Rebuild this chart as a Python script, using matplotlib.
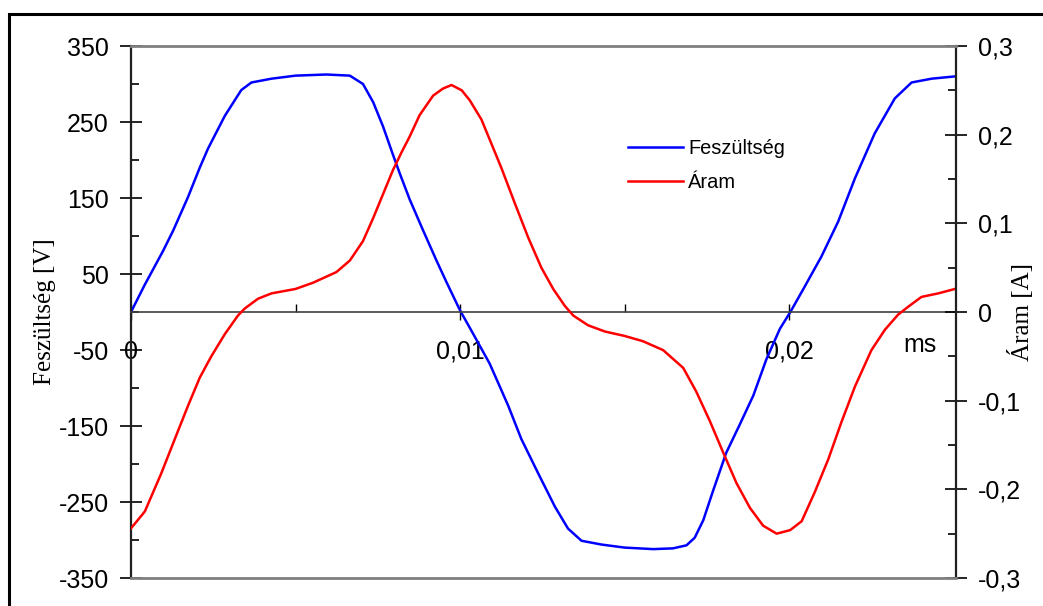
import matplotlib
matplotlib.use('Agg')
import matplotlib.pyplot as plt
from matplotlib.patches import Rectangle
from matplotlib.ticker import FixedLocator, FuncFormatter

# measured waveforms (time in s)
t_u = [0, 0.00042, 0.00097, 0.00128, 0.00173, 0.00209, 0.00234, 0.00285,
       0.00335, 0.00366, 0.00427, 0.00500, 0.00594, 0.00665, 0.00705,
       0.00736, 0.00766, 0.00796, 0.00817, 0.00847, 0.00888, 0.00928,
       0.00959, 0.01000, 0.01035, 0.01090, 0.01146, 0.01186, 0.01237,
       0.01288, 0.01328, 0.01369, 0.01430, 0.01500, 0.01587, 0.01647,
       0.01688, 0.01713, 0.01739, 0.01769, 0.01809, 0.01850, 0.01891,
       0.01931, 0.01972, 0.02005, 0.02048, 0.02098, 0.02149, 0.02200,
       0.02260, 0.02321, 0.02372, 0.02433, 0.02504]
u = [0, 36, 80, 107, 151, 190, 215, 258,
     292, 302, 307, 311, 312.5, 311, 300,
     276, 244, 207, 182, 148, 107, 68,
     39, 2, -25, -68, -123, -167, -212,
     -256, -285, -301, -306, -310, -312, -311,
     -307, -297, -274, -235, -185, -148, -110,
     -62, -22, 1, 34, 73, 119, 176,
     235, 281, 302, 307, 310]

t_i = [0, 0.00042, 0.00092, 0.00143, 0.00173, 0.00209, 0.00244, 0.00285,
       0.00325, 0.00346, 0.00386, 0.00427, 0.00500, 0.00553, 0.00624,
       0.00665, 0.00705, 0.00736, 0.00766, 0.00796, 0.00822, 0.00847,
       0.00877, 0.00918, 0.00948, 0.00974, 0.01005, 0.01029, 0.01065,
       0.01095, 0.01126, 0.01166, 0.01207, 0.01247, 0.01283, 0.01318,
       0.01344, 0.01389, 0.01440, 0.01500, 0.01556, 0.01617, 0.01678,
       0.01718, 0.01759, 0.01799, 0.01840, 0.01881, 0.01921, 0.01962,
       0.02003, 0.02038, 0.02078, 0.02119, 0.02159, 0.02200, 0.02250,
       0.02291, 0.02331, 0.02362, 0.02402, 0.02453, 0.02504]
i = [-0.244, -0.225, -0.182, -0.134, -0.106, -0.074, -0.050, -0.025,
     -0.004, 0.004, 0.015, 0.021, 0.026, 0.033, 0.045,
     0.058, 0.080, 0.106, 0.133, 0.160, 0.180, 0.198,
     0.222, 0.244, 0.252, 0.256, 0.250, 0.239, 0.217,
     0.190, 0.162, 0.123, 0.084, 0.050, 0.026, 0.007,
     -0.004, -0.015, -0.022, -0.027, -0.033, -0.043, -0.063,
     -0.090, -0.123, -0.158, -0.193, -0.221, -0.241, -0.250,
     -0.246, -0.236, -0.203, -0.166, -0.124, -0.084, -0.043,
     -0.020, -0.003, 0.006, 0.017, 0.021, 0.026]

u_ticks = [-350, -250, -150, -50, 50, 150, 250, 350]
i_ticks = [-0.3, -0.2, -0.1, 0, 0.1, 0.2, 0.3]
t_ticks = [0, 0.01, 0.02]
t_labels = ['0', '0,01', '0,02']

W, H = 1043, 606
fig = plt.figure(figsize=(W / 100, H / 100), dpi=100)
fig.patch.set_facecolor('white')
fig.patches.append(Rectangle((8.5 / W, -0.1), 1.2, 1.1 - 13.5 / H,
                             transform=fig.transFigure, fill=False,
                             edgecolor='black', linewidth=2.2))

ax = fig.add_axes([131 / W, 1 - 578 / H, 825 / W, 532 / H])
ax2 = ax.twinx()

sans = 'Liberation Sans'
serif = 'Liberation Serif'

ax.plot(t_u, u, color='#0000FF', lw=1.8, label='Feszültség')
ax2.plot(t_i, i, color='#FF0000', lw=1.8, label='Áram')

ax.set_xlim(0, 0.02507)
ax.set_ylim(-350, 350)
ax2.set_ylim(-0.3, 0.3)

# x axis sits on the zero line
ax.spines['bottom'].set_position(('data', 0))
ax.spines['bottom'].set_color('#404040')
ax.spines['bottom'].set_linewidth(1.2)
ax.spines['top'].set_visible(False)
ax.spines['right'].set_visible(False)
ax.spines['left'].set_color('#202020')
ax.spines['left'].set_linewidth(1.6)
for side in ('top', 'bottom'):
    ax2.spines[side].set_color('#808080')
    ax2.spines[side].set_linewidth(2.0)
ax2.spines['left'].set_visible(False)
ax2.spines['right'].set_color('#202020')
ax2.spines['right'].set_linewidth(1.6)

ax.set_xticks(t_ticks)
ax.set_xticklabels(t_labels, fontfamily=sans, fontsize=18)
ax.xaxis.set_minor_locator(FixedLocator([0.005, 0.015]))
ax.tick_params(axis='x', which='major', direction='inout', length=12,
               width=1.0, pad=14, colors='black')
ax.tick_params(axis='x', which='minor', direction='in', length=6, width=1.0)

ax.set_yticks(u_ticks)
ax.set_yticklabels([str(v) for v in u_ticks], fontfamily=sans, fontsize=18)
ax.yaxis.set_minor_locator(FixedLocator(range(-300, 301, 100)))
ax.tick_params(axis='y', which='major', direction='inout', length=16,
               width=1.2, pad=8)
ax.tick_params(axis='y', which='minor', direction='in', length=6, width=1.2)

ax2.set_yticks(i_ticks)
ax2.yaxis.set_major_formatter(
    FuncFormatter(lambda v, pos: ('%g' % round(v, 2)).replace('.', ',')))
for lab in ax2.get_yticklabels():
    lab.set_fontfamily(sans)
    lab.set_fontsize(18)
ax2.yaxis.set_minor_locator(FixedLocator([-0.25, -0.15, -0.05, 0.05, 0.15, 0.25]))
ax2.tick_params(axis='y', which='major', direction='inout', length=16,
                width=1.2, pad=8, labelsize=18)
ax2.tick_params(axis='y', which='minor', direction='in', length=6, width=1.2)

ax.set_ylabel('Feszültség [V]', fontfamily=serif, fontsize=18)
ax.yaxis.set_label_coords(-75 / 825, 0.5)
ax2.set_ylabel('Áram [A]', fontfamily=serif, fontsize=18)
ax2.yaxis.set_label_coords(1 + 52 / 825, 0.5)

fig.text(903 / W, 1 - 352 / H, 'ms', fontfamily=sans, fontsize=18,
         ha='left', va='baseline')

h1, l1 = ax.get_legend_handles_labels()
h2, l2 = ax2.get_legend_handles_labels()
fig.legend(h1 + h2, l1 + l2, loc='upper left',
           bbox_to_anchor=(628 / W, 1 - 139 / H), frameon=False,
           prop={'family': sans, 'size': 14.4}, handlelength=2.75,
           handletextpad=0.25, labelspacing=0.75, borderpad=0,
           borderaxespad=0)

fig.savefig('out.png', dpi=100)
